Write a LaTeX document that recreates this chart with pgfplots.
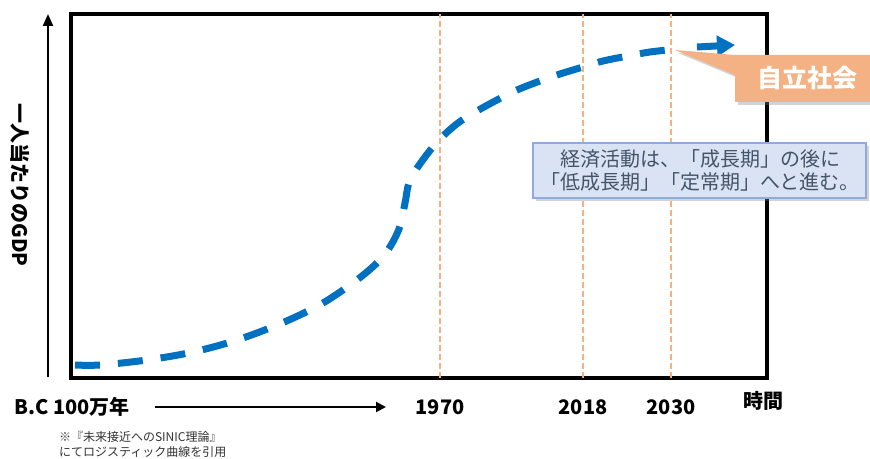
\documentclass[border=0pt]{standalone}
\usepackage{pgfplots}
\pgfplotsset{compat=1.18}
\usepackage{fontspec}
\setmainfont{Noto Sans CJK JP}
\usetikzlibrary{arrows.meta,shadows}

\definecolor{curveblue}{HTML}{0070C0}
\definecolor{peach}{HTML}{F4B183}
\definecolor{boxfill}{HTML}{DAE3F3}
\definecolor{boxedge}{HTML}{8FAADC}
\definecolor{boxtext}{HTML}{44546A}

\begin{document}
\begin{tikzpicture}
\begin{axis}[
  scale only axis,
  width=348pt, height=182pt,
  xmin=71, xmax=767, ymin=81, ymax=445,
  xtick=\empty, ytick=\empty,
  axis line style={line width=2pt},
  clip=false,
]
% era markers
\addplot[peach, line width=1.3pt, dash pattern=on 3pt off 1.5pt] coordinates {(440,81) (440,445)};
\addplot[peach, line width=1.3pt, dash pattern=on 3pt off 1.5pt] coordinates {(583,81) (583,445)};
\addplot[peach, line width=1.3pt, dash pattern=on 3pt off 1.5pt] coordinates {(671,81) (671,445)};

% logistic growth curve
\addplot[curveblue, line width=3.5pt, smooth, tension=0.55,
  dash pattern=on 12.5pt off 9pt] coordinates {
  (75,94) (100,94) (147,99) (193,107) (237,119) (282,136) (323,156)
  (362,183) (385,205) (399,230) (405,256) (410,279) (425,302)
  (440,320) (458,336) (477,348) (497,359) (517,369) (540,378)
  (560,385) (583,392) (603,398) (628,403) (650,407) (677,410)
};
\addplot[curveblue, line width=3.5pt, -{Triangle[length=9pt,width=10pt]}]
  coordinates {(697,412) (735,414)};

% explanation box
\draw[boxedge, fill=boxfill, line width=0.8pt,
  drop shadow={opacity=0.35, shadow xshift=1.5pt, shadow yshift=-1.5pt}]
  (axis cs:533,261) rectangle (axis cs:866,316);
\node[text=boxtext, font=\fontsize{10}{11.5}\selectfont, align=center]
  at (axis cs:700,288.5) {経済活動は、「成長期」の後に\\「低成長期」「定常期」へと進む。};

% callout
\fill[peach, drop shadow={opacity=0.35, shadow xshift=1.5pt, shadow yshift=-1.5pt}]
  (axis cs:675,409) -- (axis cs:735,404) -- (axis cs:870,404) -- (axis cs:870,357)
  -- (axis cs:735,357) -- (axis cs:735,384) -- cycle;
\node[text=white, font=\fontsize{12.5}{14}\selectfont\bfseries] at (axis cs:807,381) {自立社会};

% value axis arrow and label
\draw[line width=1pt, -{Triangle[length=6pt,width=5pt]}] (axis cs:48,82) -- (axis cs:48,445);
\node[rotate=-90, font=\fontsize{10}{12}\selectfont\bfseries] at (axis cs:20,274) {一人当たりのGDP};

% time axis labels
\node[font=\fontsize{10}{12}\selectfont\bfseries] at (axis cs:72,52) {B.C 100万年};
\draw[line width=1pt, -{Triangle[length=5pt,width=5pt]}] (axis cs:155,52) -- (axis cs:386,52);
\node[font=\fontsize{10}{12}\selectfont\bfseries] at (axis cs:440,52) {1970};
\node[font=\fontsize{10}{12}\selectfont\bfseries] at (axis cs:583,52) {2018};
\node[font=\fontsize{10}{12}\selectfont\bfseries] at (axis cs:671,52) {2030};
\node[font=\fontsize{10}{12}\selectfont\bfseries] at (axis cs:763,58) {時間};

% source note
\node[anchor=west, font=\fontsize{6}{7}\selectfont, text=black!80] at (axis cs:52,22) {※『未来接近へのSINIC理論』};
\node[anchor=west, font=\fontsize{6}{7}\selectfont, text=black!80] at (axis cs:52,7) {にてロジスティック曲線を引用};

\coordinate (BL) at (axis cs:0,0);
\coordinate (TR) at (axis cs:870,459);
\end{axis}
\pgfresetboundingbox
\path[use as bounding box] (BL) rectangle (TR);
\end{tikzpicture}
\end{document}
